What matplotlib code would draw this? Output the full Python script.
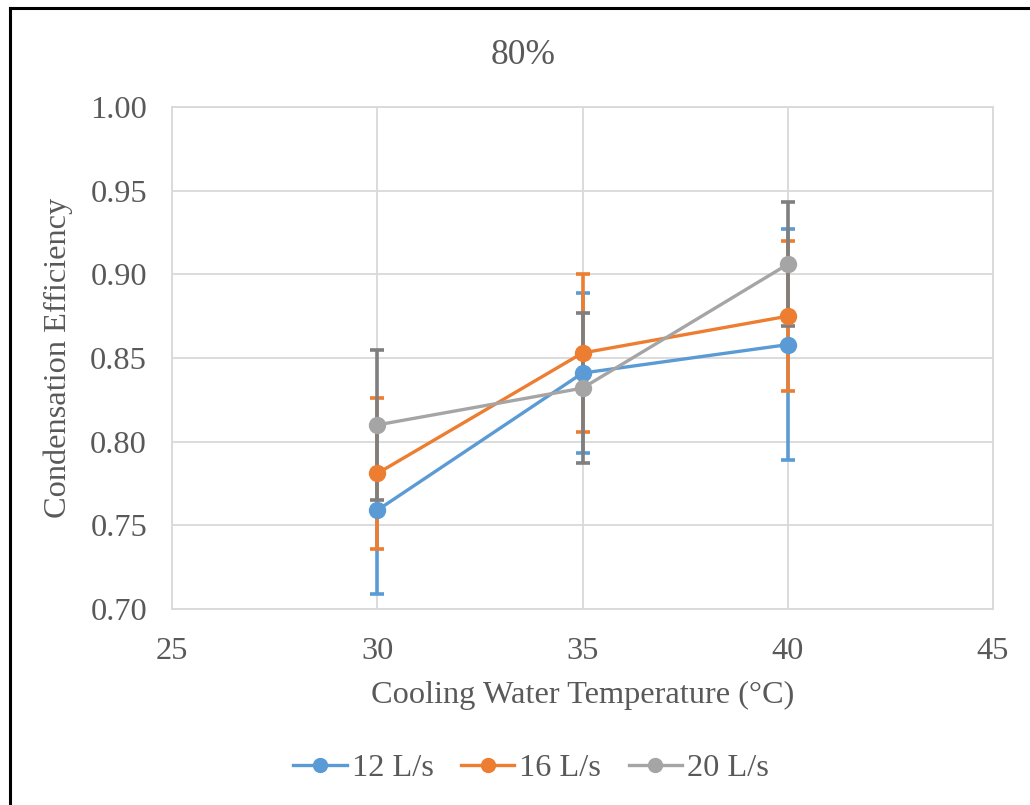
import matplotlib
matplotlib.use("Agg")
import matplotlib.pyplot as plt
from matplotlib.lines import Line2D

temps = [30, 35, 40]
series_names = ["12 L/s", "16 L/s", "20 L/s"]
eff_12 = [0.759, 0.841, 0.858]
eff_16 = [0.781, 0.853, 0.875]
eff_20 = [0.810, 0.832, 0.906]
err_12 = [0.050, 0.048, 0.069]
err_16 = [0.045, 0.047, 0.045]
err_20 = [0.045, 0.045, 0.037]
y_ticks = [0.70, 0.75, 0.80, 0.85, 0.90, 0.95, 1.00]
x_ticks = [25, 30, 35, 40, 45]

line_colors = ["#5B9BD5", "#ED7D31", "#A5A5A5"]
err_colors = ["#5B9BD5", "#ED7D31", "#7F7F7F"]
txt = "#595959"

plt.rcParams['font.family'] = ['Liberation Serif', 'DejaVu Serif']

fig = plt.figure(figsize=(10.30, 8.05), dpi=100)
ax = fig.add_axes([172/1030, 1-609/805, (993-172)/1030, (609-107)/805])

vals = [eff_12, eff_16, eff_20]
errs = [err_12, err_16, err_20]

for v, e, c in zip(vals, errs, err_colors):
    ax.errorbar(temps, v, yerr=e, fmt='none', ecolor=c, elinewidth=2.6,
                capsize=5, capthick=2.6, zorder=3)
for v, c, n in zip(vals, line_colors, series_names):
    ax.plot(temps, v, color=c, lw=2.4, marker='o', markersize=11.5,
            label=n, zorder=4, solid_capstyle='round')

ax.set_xlim(25, 45)
ax.set_ylim(0.70, 1.00)
ax.set_xticks(x_ticks)
ax.set_yticks(y_ticks)
ax.set_yticklabels([f"{t:.2f}" for t in y_ticks])
ax.grid(True, color="#D9D9D9", lw=1.3, zorder=0)
ax.set_axisbelow(True)
for s in ax.spines.values():
    s.set_color("#D9D9D9")
    s.set_linewidth(1.3)
ax.tick_params(axis='y', length=0, labelsize=23.3, colors=txt, pad=18)
ax.tick_params(axis='x', length=0, labelsize=23.3, colors=txt, pad=20)
ax.set_xlabel("Cooling Water Temperature (°C)", fontsize=23.3, color=txt, labelpad=11)
ax.set_ylabel("Condensation Efficiency", fontsize=23.3, color=txt, labelpad=12)

fig.text(0.5075, 1-55/805, "80%", ha='center', va='center', fontsize=25.5, color=txt)

handles = [Line2D([0], [0], color=c, lw=2.4, marker='o', markersize=10) for c in line_colors]
fig.legend(handles, series_names, loc='center', bbox_to_anchor=(0.5155, 1-768/805),
           ncol=3, frameon=False, fontsize=23.3, labelcolor=txt,
           handlelength=1.65, handletextpad=0.15, columnspacing=0.85)

# outer frame (left and top edges visible)
fig.add_artist(Line2D([10/1030, 10/1030], [0, 1-8/805], transform=fig.transFigure, color='black', lw=2.2))
fig.add_artist(Line2D([10/1030, 1], [1-8/805, 1-8/805], transform=fig.transFigure, color='black', lw=2.2))

fig.savefig("out.png", dpi=100)
